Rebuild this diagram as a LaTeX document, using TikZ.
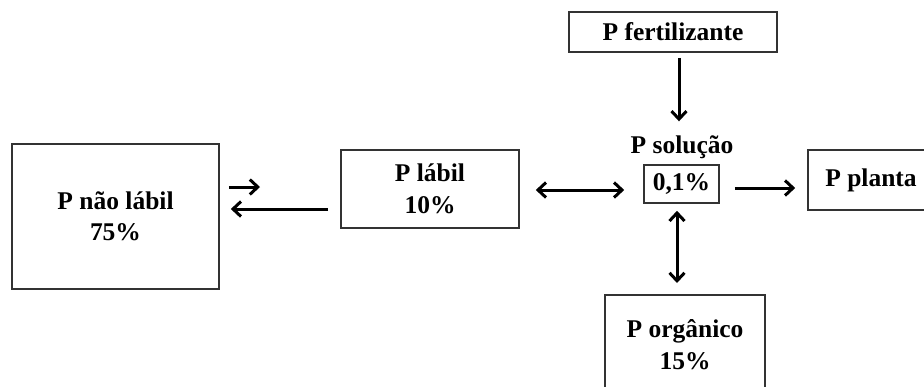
\documentclass[tikz,border=0pt]{standalone}
\usepackage{fontspec}
\setmainfont{Liberation Serif}
\usetikzlibrary{arrows.meta}
\begin{document}
\begin{tikzpicture}[x=1pt,y=-1pt,
  box/.style={draw=black!80, line width=1.6pt, inner sep=0pt, align=center,
    font=\fontsize{25.5}{31.5}\selectfont\bfseries},
  lbl/.style={inner sep=0pt, align=center, font=\fontsize{25.5}{31.5}\selectfont\bfseries},
  arr/.style={line width=3pt, -{Straight Barb[length=8pt,width=15pt,line width=3pt]}},
  darr/.style={line width=3pt, {Straight Barb[length=8pt,width=15pt,line width=3pt]}-{Straight Barb[length=8pt,width=15pt,line width=3pt]}}]
\clip (0,0) rectangle (924,386);
\fill[white] (0,0) rectangle (924,386);
% nodes
\node[box, minimum width=207pt, minimum height=145pt] (nl) at (115.5,216.5) {P não lábil\\75\%};
\node[box, minimum width=178pt, minimum height=78pt] (lab) at (430,189) {P lábil\\10\%};
\node[box, minimum width=208pt, minimum height=40pt] (fert) at (673,32) {\raisebox{-4pt}{P fertilizante}};
\node[lbl] (sol) at (682,147) {P solução};
\node[box, minimum width=75pt, minimum height=38pt] (pct) at (681.5,184) {\raisebox{-4pt}{0,1\%}};
\node[box, minimum width=126pt, minimum height=60pt] (pl) at (871,180) {P planta};
\node[box, minimum width=160pt, minimum height=100pt, anchor=north] (org) at (685,294) {P orgânico\\15\%};
% free ends
\coordinate (a1) at (260,187);
\coordinate (a2) at (328,209);
% connectors
\draw[arr, shorten <=9pt] (nl.east |- a1) -- (a1);
\draw[arr, shorten >=11pt] (a2) -- (nl.east |- a2);
\draw[darr, shorten <=16pt, shorten >=19pt] (lab.east |- 0,190) -- (pct.west |- 0,190);
\draw[arr, shorten <=15pt, shorten >=12pt] (pct.east |- 0,188) -- (pl.west |- 0,188);
\draw[darr, shorten <=7pt, shorten >=11pt] (pct.south -| 677,0) -- (org.north -| 677,0);
\draw[arr, shorten <=5pt, shorten >=14pt] (fert.south -| 679,0) -- (sol.north -| 679,0);
\end{tikzpicture}
\end{document}
